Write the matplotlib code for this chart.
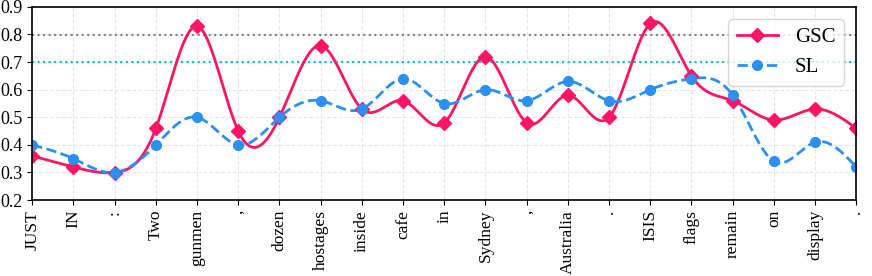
import numpy as np
import matplotlib
matplotlib.use('Agg')
import matplotlib.pyplot as plt

plt.rcParams['font.family'] = ['Liberation Serif', 'DejaVu Serif']

tokens = ['JUST', 'IN', ':', 'Two', 'gunmen', ',', 'dozen', 'hostages', 'inside',
          'cafe', 'in', 'Sydney', ',', 'Australia', '.', 'ISIS', 'flags', 'remain',
          'on', 'display', '.']
gsc = [0.36, 0.32, 0.30, 0.46, 0.83, 0.45, 0.50, 0.76, 0.53, 0.56, 0.48, 0.72,
       0.48, 0.58, 0.50, 0.84, 0.65, 0.56, 0.49, 0.53, 0.46]
sl = [0.40, 0.35, 0.30, 0.40, 0.50, 0.40, 0.50, 0.56, 0.53, 0.64, 0.55, 0.60,
      0.56, 0.63, 0.56, 0.60, 0.64, 0.58, 0.34, 0.41, 0.32]


def cubic_spline(x, y, xs):
    # natural cubic spline, only numpy
    x = np.asarray(x, float)
    y = np.asarray(y, float)
    n = len(x)
    h = np.diff(x)
    A = np.zeros((n, n))
    b = np.zeros(n)
    A[0, 0] = 1
    A[-1, -1] = 1
    for i in range(1, n - 1):
        A[i, i - 1] = h[i - 1]
        A[i, i] = 2 * (h[i - 1] + h[i])
        A[i, i + 1] = h[i]
        b[i] = 3 * ((y[i + 1] - y[i]) / h[i] - (y[i] - y[i - 1]) / h[i - 1])
    c = np.linalg.solve(A, b)
    idx = np.clip(np.searchsorted(x, xs) - 1, 0, n - 2)
    dx = xs - x[idx]
    bb = (y[idx + 1] - y[idx]) / h[idx] - h[idx] * (2 * c[idx] + c[idx + 1]) / 3
    d = (c[idx + 1] - c[idx]) / (3 * h[idx])
    return y[idx] + bb * dx + c[idx] * dx ** 2 + d * dx ** 3


x = np.arange(len(tokens))
xs = np.linspace(0, len(tokens) - 1, 600)

fig = plt.figure(figsize=(8.72, 2.76), dpi=100)
ax = fig.add_axes([0.037, 0.275, 0.945, 0.70])

ax.grid(True, linestyle='--', color='#e6e6e6', linewidth=0.8)
ax.axhline(0.8, color='gray', linestyle=':', linewidth=1.5)
ax.axhline(0.7, color='#00c5c5', linestyle=':', linewidth=1.5)

ax.plot(xs, cubic_spline(x, gsc, xs), color='#ff1466', linewidth=2)
ax.plot(xs, cubic_spline(x, sl, xs), color='#2b90f0', linewidth=2, linestyle='--')
ax.plot(x, gsc, 'D', color='#ff1466', markersize=7)
ax.plot(x, sl, 'o', color='#2b90f0', markersize=7)

# legend proxies
ax.plot([], [], color='#ff1466', linewidth=2, marker='D', markersize=7, label='GSC')
ax.plot([], [], color='#2b90f0', linewidth=2, linestyle='--', marker='o', markersize=7, label='SL')
ax.legend(loc='upper right', fontsize=15, framealpha=0.8, borderaxespad=0.6)

ax.set_xlim(0, len(tokens) - 1)
ax.set_ylim(0.2, 0.9)
ax.set_xticks(x)
ax.set_xticklabels(tokens, rotation=90, fontsize=12.5)
ax.set_yticks(np.arange(0.2, 0.91, 0.1))
ax.set_yticklabels(['%.1f' % v for v in np.arange(0.2, 0.91, 0.1)], fontsize=13)
for s in ax.spines.values():
    s.set_linewidth(1.2)

fig.savefig('out.png', dpi=100)
